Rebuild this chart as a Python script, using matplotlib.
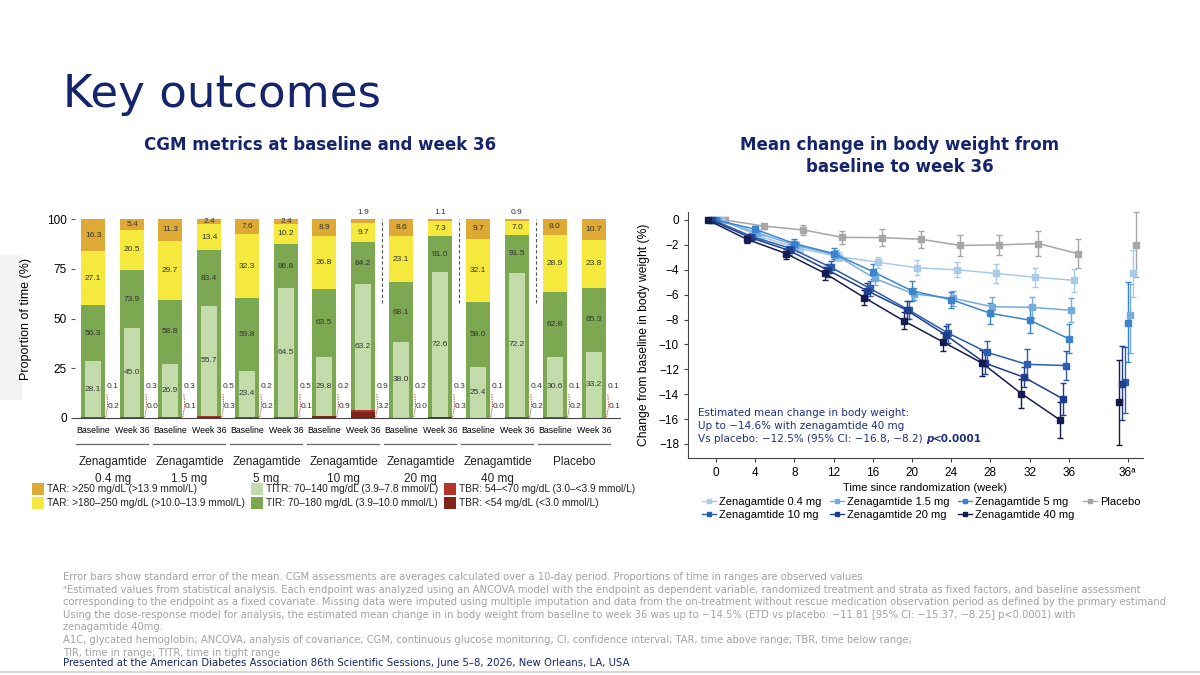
import numpy as np
import matplotlib
matplotlib.use('Agg')
import matplotlib.pyplot as plt
from matplotlib.patches import Rectangle
from matplotlib.lines import Line2D

plt.rcParams['font.family'] = ['Liberation Sans', 'DejaVu Sans']

NAVY = '#15246b'

# ---------------- left panel: CGM metrics ----------------
groups = ['Zenagamtide\n0.4 mg', 'Zenagamtide\n1.5 mg', 'Zenagamtide\n5 mg',
          'Zenagamtide\n10 mg', 'Zenagamtide\n20 mg', 'Zenagamtide\n40 mg', 'Placebo']
visits = ['Baseline', 'Week 36']
# values per group: baseline, week 36
tar250 = [16.3, 5.4, 11.3, 2.4, 7.6, 2.4, 8.9, 1.9, 8.6, 1.1, 9.7, 0.9, 8.0, 10.7]
tar180 = [27.1, 20.5, 29.7, 13.4, 32.3, 10.2, 26.8, 9.7, 23.1, 7.3, 32.1, 7.0, 28.9, 23.8]
tir = [56.3, 73.9, 58.8, 83.4, 59.8, 86.8, 63.5, 84.2, 68.1, 91.0, 58.0, 91.5, 62.8, 65.3]
titr = [28.1, 45.0, 26.9, 55.7, 23.4, 64.5, 29.8, 63.2, 38.0, 72.6, 25.4, 72.2, 30.6, 33.2]
tbr70 = [0.1, 0.3, 0.3, 0.5, 0.2, 0.5, 0.2, 0.9, 0.2, 0.3, 0.1, 0.4, 0.1, 0.1]   # 54-<70
tbr54 = [0.2, 0.0, 0.1, 0.3, 0.2, 0.1, 0.9, 3.2, 0.0, 0.3, 0.0, 0.2, 0.2, 0.1]   # <54

cgm_labels = ['TAR: >250 mg/dL (>13.9 mmol/L)', 'TAR: >180\u2013250 mg/dL (>10.0\u201313.9 mmol/L)',
              'TITR: 70\u2013140 mg/dL (3.9\u20137.8 mmol/L)', 'TIR: 70\u2013180 mg/dL (3.9\u201310.0 mmol/L)',
              'TBR: 54\u2013<70 mg/dL (3.0\u2013<3.9 mmol/L)', 'TBR: <54 mg/dL (<3.0 mmol/L)']
c_tar250 = '#dea934'
c_tar180 = '#f4e93c'
c_titr = '#c4dbab'
c_tir = '#7ba851'
c_tbr70 = '#b0342a'
c_tbr54 = '#7e2418'

# ---------------- right panel: body weight ----------------
weeks = [0, 4, 8, 12, 16, 20, 24, 28, 32, 36]
arms = ['Zenagamtide 0.4 mg', 'Zenagamtide 1.5 mg', 'Zenagamtide 5 mg',
        'Zenagamtide 10 mg', 'Zenagamtide 20 mg', 'Zenagamtide 40 mg', 'Placebo']
wt_04 = [0, -1.35, -2.3, -2.95, -3.4, -3.85, -4.0, -4.3, -4.6, -4.85]
wt_15 = [0, -1.05, -2.05, -2.8, -4.7, -5.95, -6.3, -6.97, -7.02, -7.26]
wt_5 = [0, -0.75, -1.9, -2.7, -4.15, -5.7, -6.4, -7.5, -8.05, -9.55]
wt_10 = [0, -1.35, -2.3, -3.8, -5.5, -7.25, -9.1, -10.65, -11.6, -11.7]
wt_20 = [0, -1.4, -2.45, -4.05, -5.7, -7.25, -9.25, -11.5, -12.65, -14.4]
wt_40 = [0, -1.55, -2.7, -4.3, -6.25, -8.1, -9.8, -11.5, -13.95, -16.1]
wt_pbo = [0, -0.5, -0.8, -1.4, -1.42, -1.55, -2.05, -2.0, -1.9, -2.7]
se_04 = [0.1, 0.2, 0.3, 0.35, 0.45, 0.6, 0.6, 0.75, 0.75, 0.9]
se_15 = [0.1, 0.25, 0.3, 0.4, 0.5, 0.5, 0.6, 0.75, 0.85, 0.95]
se_5 = [0.1, 0.3, 0.35, 0.45, 0.6, 0.8, 0.65, 0.85, 1.05, 1.15]
se_10 = [0.1, 0.3, 0.35, 0.5, 0.6, 0.7, 0.75, 0.95, 1.25, 1.15]
se_20 = [0.1, 0.3, 0.35, 0.5, 0.65, 0.7, 0.7, 0.9, 0.8, 1.3]
se_40 = [0.1, 0.3, 0.4, 0.55, 0.6, 0.7, 0.7, 1.05, 1.2, 1.45]
se_pbo = [0.2, 0.2, 0.43, 0.5, 0.7, 0.68, 0.88, 0.8, 1.0, 1.17]
# model estimates at week 36 (a)
est36 = [-4.3, -7.65, -8.25, -13.05, -13.15, -14.6, -2.0]
est36_hi = [-2.4, -5.15, -4.95, -10.2, -10.1, -11.25, 0.6]
est36_lo = [-6.2, -10.7, -11.45, -15.5, -16.1, -18.1, -4.6]
arm_colors = ['#a9cbea', '#74ace0', '#3c84cb', '#2a5eae', '#203e8c', '#161c50', '#a6a6a6']
arm_offset = [0.55, 0.2, 0.0, -0.3, -0.55, -0.85, 0.9]

fig = plt.figure(figsize=(12, 6.75), dpi=100)

# slide background layer in pixel coordinates
bg = fig.add_axes([0, 0, 1, 1])
bg.set_xlim(0, 1200)
bg.set_ylim(675, 0)
bg.axis('off')
bg.add_patch(Rectangle((0, 255), 22, 145, color='#f3f3f3', lw=0))
bg.plot([0, 1200], [672, 672], color='#cfcfcf', lw=1.2)
bg.text(63, 95, 'Key outcomes', fontsize=32.5, color=NAVY, family='DejaVu Sans',
        va='center', ha='left')
bg.text(320, 145, 'CGM metrics at baseline and week 36', fontsize=12, fontweight='bold',
        color=NAVY, family='DejaVu Sans', ha='center', va='center')
bg.text(900, 156, 'Mean change in body weight from\nbaseline to week 36', fontsize=12,
        fontweight='bold', color=NAVY, family='DejaVu Sans', ha='center', va='center',
        linespacing=1.35)

notes = [
    'Error bars show standard error of the mean. CGM assessments are averages calculated over a 10-day period. Proportions of time in ranges are observed values',
    '\u1d43Estimated values from statistical analysis. Each endpoint was analyzed using an ANCOVA model with the endpoint as dependent variable, randomized treatment and strata as fixed factors, and baseline assessment',
    'corresponding to the endpoint as a fixed covariate. Missing data were imputed using multiple imputation and data from the on-treatment without rescue medication observation period as defined by the primary estimand',
    'Using the dose-response model for analysis, the estimated mean change in in body weight from baseline to week 36 was up to \u221214.5% (ETD vs placebo: \u221211.81 [95% CI: \u221215.37, \u22128.25] p<0.0001) with',
    'zenagamtide 40mg.',
    'A1C, glycated hemoglobin; ANCOVA, analysis of covariance; CGM, continuous glucose monitoring; CI, confidence interval; TAR, time above range; TBR, time below range;',
    'TIR, time in range; TITR, time in tight range',
]
for i, s in enumerate(notes):
    bg.text(63, 577 + i * 12.6, s, fontsize=7.2, color='#a3a3a3', family='DejaVu Sans',
            va='center', ha='left')
bg.text(63, 663, 'Presented at the American Diabetes Association 86th Scientific Sessions, June 5\u20138, 2026, New Orleans, LA, USA',
        fontsize=7.3, color=NAVY, family='DejaVu Sans', va='center', ha='left')

# left legend (drawn in slide coordinates)
leg_cols = [c_tar250, c_tar180, c_titr, c_tir, c_tbr70, c_tbr54]
leg_x = [32, 32, 251, 251, 444, 444]
leg_y = [489, 503, 489, 503, 489, 503]
for lab, col, lx, ly in zip(cgm_labels, leg_cols, leg_x, leg_y):
    bg.add_patch(Rectangle((lx, ly - 6), 12, 12, color=col, lw=0))
    bg.text(lx + 15, ly, lab, fontsize=7.3, va='center', ha='left', color='#222222')

# ---------------- left chart ----------------
ax1 = fig.add_axes([75 / 1200, 1 - 418 / 675, 545 / 1200, 199 / 675])
x_bl = np.arange(len(groups)) * 2.0
x_w = x_bl + 1.013
xs = np.ravel(np.column_stack([x_bl, x_w]))
bw = 0.62
tbr_tot = np.array(tbr54) + np.array(tbr70)
b_tir = tbr_tot
b_180 = tbr_tot + np.array(tir)
b_250 = b_180 + np.array(tar180)

ax1.bar(xs, tbr54, bw, color=c_tbr54, lw=0)
ax1.bar(xs, tbr70, bw, bottom=tbr54, color=c_tbr70, lw=0)
ax1.bar(xs, tir, bw, bottom=b_tir, color=c_tir, lw=0)
ax1.bar(xs, tar180, bw, bottom=b_180, color=c_tar180, lw=0)
ax1.bar(xs, tar250, bw, bottom=b_250, color=c_tar250, lw=0)
ax1.bar(xs, titr, bw * 0.67, bottom=b_tir, color=c_titr, lw=0)

lab_kw = dict(fontsize=6, color='#333333', ha='center', va='center', clip_on=False)
for j, x in enumerate(xs):
    v = tar250[j]
    if v < 2:
        ax1.text(x, 103.5, f'{v:.1f}', **lab_kw)
    else:
        ax1.text(x, b_250[j] + v / 2, f'{v:.1f}', **lab_kw)
    ax1.text(x, b_180[j] + tar180[j] / 2, f'{tar180[j]:.1f}', **lab_kw)
    ax1.text(x, (b_tir[j] + titr[j] + b_180[j]) / 2, f'{tir[j]:.1f}', **lab_kw)
    ax1.text(x, b_tir[j] + titr[j] / 2, f'{titr[j]:.1f}', **lab_kw)
    xr = x + bw / 2
    ax1.plot([xr + 0.02, xr + 0.07, xr + 0.05], [0.5, 6, 12], color='#b5523f', lw=0.7,
             ls=(0, (1.5, 1)), clip_on=False)
    ax1.text(xr + 0.05, 15.8, f'{tbr70[j]:.1f}', fontsize=6, color='#333333', ha='left', va='center')
    ax1.text(xr + 0.06, 6.0, f'{tbr54[j]:.1f}', fontsize=6, color='#333333', ha='left', va='center')

for k in (3, 4, 5):
    xm = (x_w[k] + x_bl[k + 1]) / 2
    ax1.plot([xm, xm], [58, 100], color='#555555', lw=0.8, ls=(0, (3, 2)))

ax1.set_xlim(-0.47, 13.69)
ax1.set_ylim(0, 100)
ax1.set_yticks([0, 25, 50, 75, 100])
ax1.set_xticks(xs)
ax1.set_xticklabels(visits * len(groups), fontsize=6.3)
ax1.tick_params(axis='x', length=0, pad=6)
ax1.tick_params(axis='y', length=3, width=0.8, color='#555555', labelsize=8.5, pad=3)
for sp in ('top', 'right', 'left'):
    ax1.spines[sp].set_visible(False)
ax1.spines['bottom'].set_color('#444444')
ax1.set_ylabel('Proportion of time (%)', fontsize=9)
ax1.yaxis.set_label_coords(-0.079, 0.5)

trans = ax1.get_xaxis_transform()
for k, g in enumerate(groups):
    ax1.plot([x_bl[k] - 0.45, x_w[k] + 0.42], [-0.13, -0.13], color='#666666', lw=0.9,
             transform=trans, clip_on=False)
    ax1.text((x_bl[k] + x_w[k]) / 2, -0.192, g, transform=trans, fontsize=8.5, ha='center',
             va='top', linespacing=1.55, color='#222222')

# ---------------- right chart ----------------
ax2 = fig.add_axes([688 / 1200, 1 - 458 / 675, 455 / 1200, 246 / 675])
series = [(wt_04, se_04), (wt_15, se_15), (wt_5, se_5), (wt_10, se_10),
          (wt_20, se_20), (wt_40, se_40), (wt_pbo, se_pbo)]
draw_order = [6, 0, 1, 2, 3, 4, 5]
for i in draw_order:
    vals, se = series[i]
    xw = np.array(weeks) + arm_offset[i]
    ax2.errorbar(xw, vals, yerr=se, color=arm_colors[i], marker='s', ms=4, lw=1.1,
                 elinewidth=1.0, capsize=2.2, capthick=1.0)
    e = est36[i]
    ax2.errorbar([42 + arm_offset[i]], [e], yerr=[[e - est36_lo[i]], [est36_hi[i] - e]],
                 color=arm_colors[i], marker='s', ms=4, ls='none', elinewidth=1.0,
                 capsize=2.2, capthick=1.0, clip_on=False)

ax2.set_xlim(-2.86, 43.57)
ax2.set_ylim(-19.13, 0.64)
ax2.set_yticks(np.arange(0, -19, -2))
ax2.set_xticks(weeks + [42])
ax2.set_xticklabels([str(w) for w in weeks] + ['36\u1d43'])
ax2.tick_params(labelsize=8.5, length=3, width=0.8, color='#444444')
for sp in ('top', 'right'):
    ax2.spines[sp].set_visible(False)
ax2.spines['left'].set_color('#444444')
ax2.spines['bottom'].set_color('#444444')
ax2.set_ylabel('Change from baseline in body weight (%)', fontsize=8.7)
ax2.yaxis.set_label_coords(-0.084, 0.5)
ax2.set_xlabel('Time since randomization (week)', fontsize=8)
ax2.xaxis.set_label_coords(0.52, -0.1)

box_kw = dict(transform=ax2.transAxes, fontsize=7.5, color='#1f2f80', family='DejaVu Sans',
              ha='left', va='center')
ax2.text(0.022, (458 - 413) / 246, 'Estimated mean change in body weight:', **box_kw)
ax2.text(0.022, (458 - 426) / 246, 'Up to \u221214.6% with zenagamtide 40 mg', **box_kw)
t3 = ax2.text(0.022, (458 - 439) / 246,
              'Vs placebo: \u221212.5% (95% CI: \u221216.8, \u22128.2) ', **box_kw)
tp = ax2.annotate('p', xy=(1, 0), xycoords=t3, va='bottom', ha='left', fontsize=7.5,
                  color='#1f2f80', family='DejaVu Sans', fontweight='bold', fontstyle='italic')
ax2.annotate('<0.0001', xy=(1, 0), xycoords=tp, va='bottom', ha='left', fontsize=7.5,
             color='#1f2f80', family='DejaVu Sans', fontweight='bold')

handles = [Line2D([], [], color=arm_colors[i], marker='s', ms=2.5, lw=1.0) for i in range(7)]
order = [0, 3, 1, 4, 2, 5, 6]
fig.legend([handles[i] for i in order], [arms[i] for i in order], loc='upper left',
           bbox_to_anchor=(702 / 1200, 1 - 497 / 675), ncol=4, frameon=False, fontsize=8.0,
           handlelength=1.3, handletextpad=0.25, columnspacing=0.75, labelspacing=0.3,
           borderpad=0, borderaxespad=0)

fig.savefig('out.png', dpi=100)
